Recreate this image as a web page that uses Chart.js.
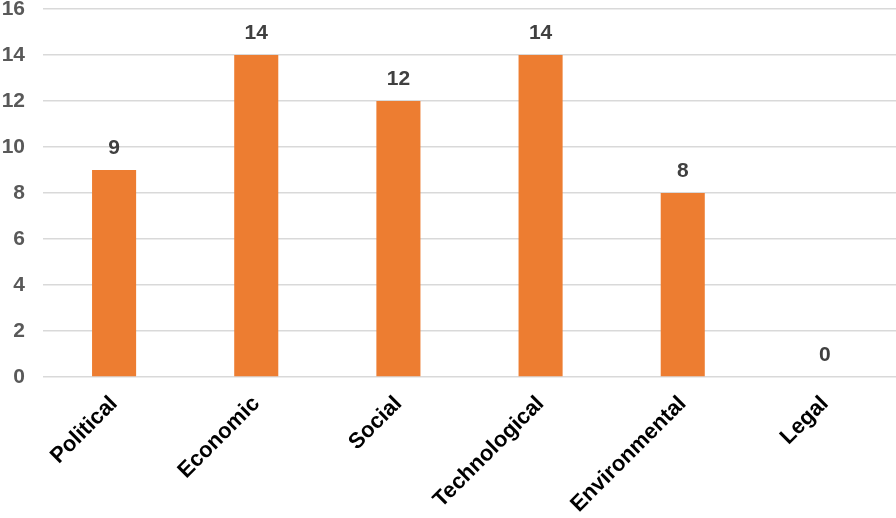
<!DOCTYPE html>
<html>
<head>
<meta charset="utf-8">
<script src="https://cdn.jsdelivr.net/npm/chart.js@4"></script>
<style>
  html, body { margin: 0; padding: 0; background: #fff; }
  #wrap { width: 896px; height: 518px; }
</style>
</head>
<body>
<div id="wrap"><canvas id="chart"></canvas></div>
<script>
const categories = ["Political", "Economic", "Social", "Technological", "Environmental", "Legal"]
const counts = [9, 14, 12, 14, 8, 0]
const yTicks = [0, 2, 4, 6, 8, 10, 12, 14, 16]

// labels above each bar
const valueLabels = {
    id: "valueLabels",
    afterDatasetsDraw(chart) {
        const ctx = chart.ctx
        const meta = chart.getDatasetMeta(0)
        ctx.save()
        ctx.font = "bold 21px 'Liberation Sans', Arial, sans-serif"
        ctx.fillStyle = "#404040"
        ctx.textAlign = "center"
        ctx.textBaseline = "middle"
        meta.data.forEach((bar, i) => {
            ctx.fillText(counts[i], bar.x, bar.y - 22)
        })
        ctx.restore()
    }
}

new Chart(document.getElementById("chart"), {
    type: "bar",
    data: {
        labels: categories,
        datasets: [{
            data: counts,
            backgroundColor: "#ED7D31",
            barPercentage: 0.31,
            categoryPercentage: 1
        }]
    },
    options: {
        responsive: true,
        maintainAspectRatio: false,
        animation: false,
        layout: { padding: { top: 9, right: 0, left: 0, bottom: 0 } },
        plugins: { legend: { display: false }, tooltip: { enabled: false } },
        scales: {
            x: {
                grid: { display: false },
                border: { display: false },
                ticks: {
                    color: "#000",
                    font: { family: "'Liberation Sans', Arial, sans-serif", size: 22, weight: "bold" },
                    minRotation: 45,
                    maxRotation: 45,
                    padding: 6
                },
                afterFit(scale) {
                    scale.height = 141
                    scale.paddingLeft = 0
                    scale.paddingRight = 0
                }
            },
            y: {
                min: 0,
                max: 16,
                afterBuildTicks(scale) { scale.ticks = yTicks.map(v => ({ value: v })) },
                grid: { color: "#d9d9d9", lineWidth: 1.5, drawTicks: false },
                border: { display: false },
                ticks: {
                    color: "#595959",
                    font: { family: "'Liberation Sans', Arial, sans-serif", size: 21, weight: "bold" },
                    padding: 18
                },
                afterFit(scale) {
                    scale.width = 43
                    scale.paddingTop = 0
                    scale.paddingBottom = 0
                }
            }
        }
    },
    plugins: [valueLabels]
})
</script>
</body>
</html>
